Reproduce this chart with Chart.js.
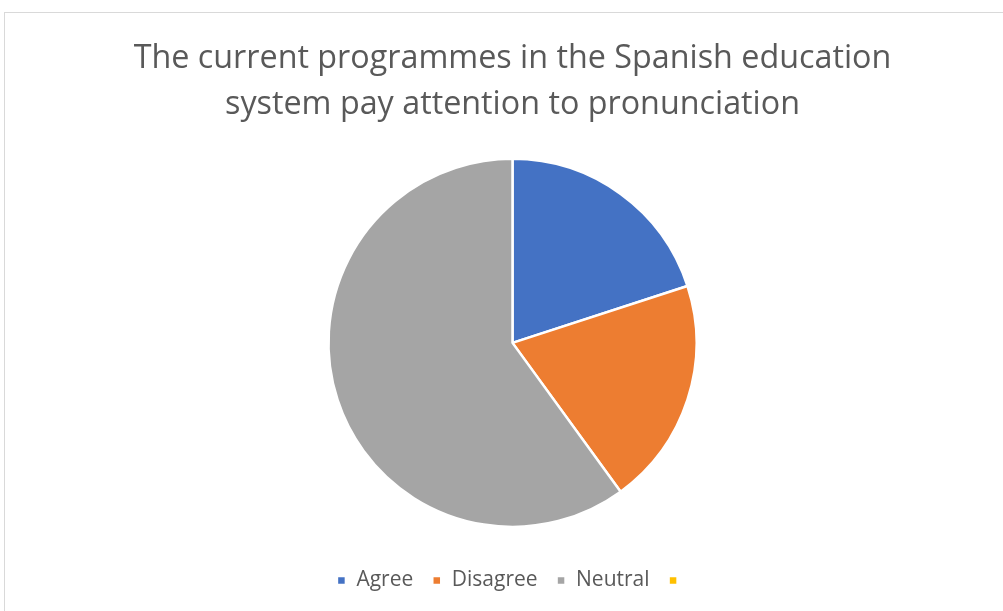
<!DOCTYPE html>
<html lang="en">
<head>
  <meta charset="UTF-8" />
  <title>Pronunciation survey</title>
  <script src="https://cdn.jsdelivr.net/npm/chart.js"></script>
  <style>
    body { margin: 0; background: #fff; overflow: hidden; }
    .frame { position: absolute; left: 4px; top: 12px; width: 1010px; height: 620px; border: 1px solid #d9d9d9; }
    .wrap { position: absolute; left: 0; top: 0; width: 1003px; height: 611px; }
  </style>
</head>
<body>
  <div class="frame"></div>
  <div class="wrap"><canvas id="pie"></canvas></div>

  <script>
    const labels = ['Agree', 'Disagree', 'Neutral', ''];
    const values = [20, 20, 60, 0];
    const colors = ['#4472C4', '#ED7D31', '#A5A5A5', '#FFC000'];
    const titleLines = ['The current programmes in the Spanish education', 'system pay attention to pronunciation'];

    new Chart(document.getElementById('pie'), {
      type: 'pie',
      data: {
        labels,
        datasets: [{
          data: values,
          backgroundColor: colors,
          borderColor: '#ffffff',
          borderWidth: 2.5,
          radius: 184
        }]
      },
      options: {
        responsive: true,
        maintainAspectRatio: false,
        animation: false,
        layout: { padding: { left: 22, top: 0, bottom: 10 } },
        plugins: {
          title: {
            display: true,
            text: titleLines,
            color: '#595959',
            font: { family: 'Open Sans', size: 32.3, weight: 'normal', lineHeight: 1.42 },
            padding: { top: 36, bottom: 7 }
          },
          legend: {
            position: 'bottom',
            labels: {
              color: '#595959',
              font: { family: 'Open Sans', size: 21 },
              boxWidth: 9,
              boxHeight: 9,
              padding: 19
            }
          },
          tooltip: { enabled: false }
        }
      }
    });
  </script>
</body>
</html>
